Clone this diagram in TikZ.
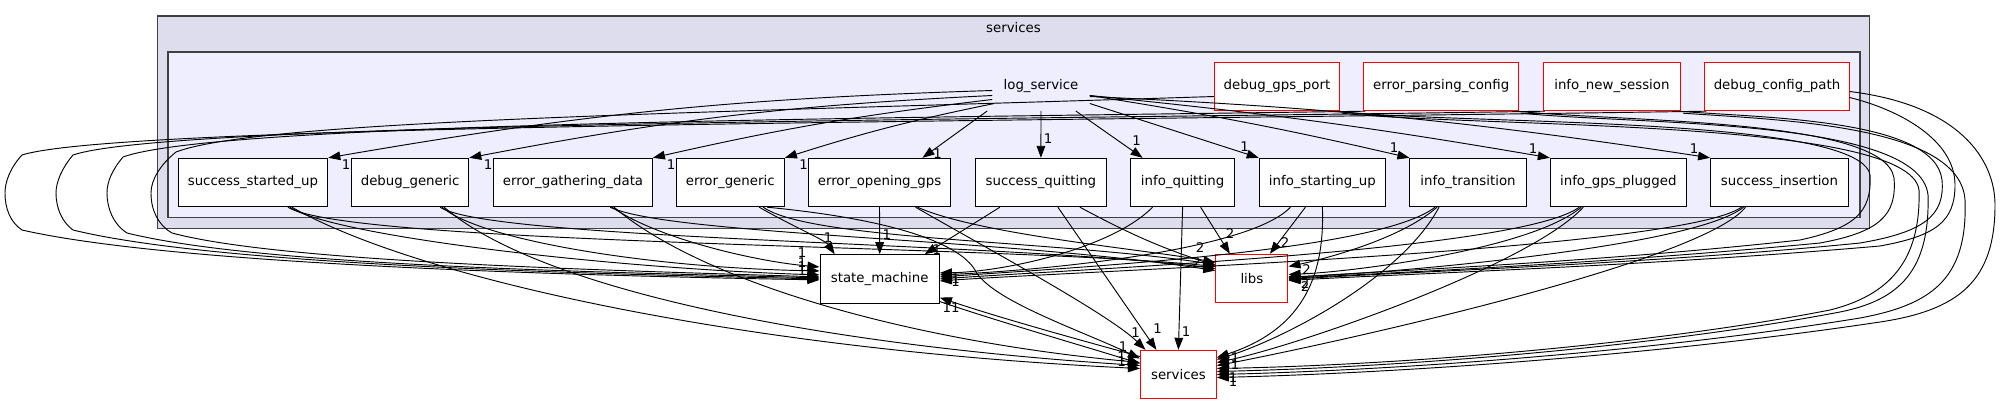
\documentclass[tikz,border=0pt]{standalone}
\usepackage{fontspec}
\setmainfont{DejaVu Sans}
\usetikzlibrary{arrows.meta,calc}
\definecolor{outerfill}{HTML}{DDDDEE}
\definecolor{innerfill}{HTML}{EEEEFF}
\definecolor{clborder}{HTML}{404040}
\begin{document}
\begin{tikzpicture}[x=0.75pt,y=-0.75pt,
  bw/.style={minimum width=#1*0.75pt},
  dbox/.style={draw=black,fill=white,line width=0.75pt,minimum height=36.3pt,inner sep=0pt,font=\fontsize{10pt}{12pt}\selectfont},
  rbox/.style={dbox,draw=red},
  dep/.style={draw=black,line width=0.7pt,-{Triangle[length=9pt,width=6.5pt]}},
  lbl/.style={font=\fontsize{10pt}{12pt}\selectfont,inner sep=0pt},
  cluster/.style={draw=clborder,line width=1.2pt,inner sep=0pt}
]
\useasboundingbox (0,0) rectangle (2001,404);
\fill[white] (0,0) rectangle (2001,404);
% clusters
\node[cluster,fill=outerfill,minimum width=1712*0.75pt,minimum height=212.6*0.75pt] (outer) at (1013.5,122) {};
\node[lbl] (outerlbl) at (1013.5,27.7) {services};
\node[cluster,fill=innerfill,minimum width=1692.3*0.75pt,minimum height=165.6*0.75pt] (inner) at (1013.85,134.5) {};
% nodes
\node[lbl,minimum width=97*0.75pt,minimum height=48.4*0.75pt] (log) at (1041,86.5) {log\_service};
\node[rbox,bw=125.1] (dgp) at (1277,86.5) {debug\_gps\_port};
\node[rbox,bw=154.5] (epc) at (1441.2,86.5) {error\_parsing\_config};
\node[rbox,bw=137.2] (ins) at (1611.9,86.5) {info\_new\_session};
\node[rbox,bw=144.3] (dcp) at (1777,86.5) {debug\_config\_path};

\node[dbox,bw=149.8] (ssu) at (252.9,182.5) {success\_started\_up};
\node[dbox,bw=117.4] (dg) at (410.1,182.5) {debug\_generic};
\node[dbox,bw=158.8] (egd) at (573,182.5) {error\_gathering\_data};
\node[dbox,bw=108.4] (eg) at (730.2,182.5) {error\_generic};
\node[dbox,bw=142.9] (eog) at (879.5,182.5) {error\_opening\_gps};
\node[dbox,bw=130.2] (sq) at (1040.9,182.5) {success\_quitting};
\node[dbox,bw=103.4] (iq) at (1182.6,182.5) {info\_quitting};
\node[dbox,bw=126.4] (isu) at (1322.4,182.5) {info\_starting\_up};
\node[dbox,bw=116.1] (it) at (1468,182.5) {info\_transition};
\node[dbox,bw=136] (igp) at (1618.3,182.5) {info\_gps\_plugged};
\node[dbox,bw=137.9] (si) at (1779.5,182.5) {success\_insertion};

\node[dbox,bw=119.4] (sm) at (879.7,278.9) {state\_machine};
\node[rbox,bw=72.1] (libs) at (1251.9,278.5) {libs};
\node[rbox,bw=76] (svc) at (1178.4,374.5) {services};

% log_service -> children
\draw[dep] ($(log.west)+(0,4)$) to[bend right=4] (ssu.north east);
\draw[dep] ($(log.west)+(0,9)$) to[bend right=4] (dg.north east);
\draw[dep] ($(log.west)+(0,13)$) to[bend right=3] (egd.north east);
\draw[dep] ($(log.west)+(2,17)$) to[bend right=3] (eg.north east);
\draw[dep] ($(log.south west)+(-5,0)$) -- ($(eog.north east)+(-29,0)$);
\draw[dep] (log.south) -- (sq.north);
\draw[dep] ($(log.south east)+(-14,0)$) -- ($(iq.north)+(-40,0)$);
\draw[dep] ($(log.east)+(0,17)$) -- (isu.north west);
\draw[dep] ($(log.east)+(0,9)$) to[bend left=2] (it.north west);
\draw[dep] ($(log.east)+(0,9)$) to[bend left=2] (igp.north west);
\draw[dep] ($(log.east)+(0,10)$) to[bend left=3] (si.north west);
\node[lbl] (l1) at (346,165) {1};
\node[lbl] (l2) at (488,165) {1};
\node[lbl] (l3) at (671,165) {1};
\node[lbl] (l4) at (803.6,165) {1};
\node[lbl] (l5) at (937.5,154) {1};
\node[lbl] (l6) at (1048,139) {1};
\node[lbl] (l7) at (1136.7,140.7) {1};
\node[lbl] (l8) at (1244.6,146.7) {1};
\node[lbl] (l9) at (1394,147.7) {1};
\node[lbl] (l10) at (1533,149) {1};
\node[lbl] (l11) at (1694,148.3) {1};

% success_started_up
\draw[dep] ($(ssu.south)+(37,0)$) .. controls (330,235) and (600,268) .. ($(sm.west)+(0,-4)$);
\draw[dep] ($(ssu.south)+(35,0)$) .. controls (350,245) and (1000,245) .. ($(libs.west)+(0,-12)$);
\draw[dep] ($(ssu.south)+(39,0)$) .. controls (420,280) and (750,350) .. ($(svc.west)+(0,-6)$);
% debug_generic
\draw[dep] ($(dg.south)+(32,0)$) .. controls (480,240) and (650,268) .. ($(sm.west)+(0,-8)$);
\draw[dep] ($(dg.south)+(30,0)$) .. controls (490,240) and (1000,242) .. ($(libs.west)+(0,-10)$);
\draw[dep] ($(dg.south)+(34,0)$) .. controls (540,290) and (820,345) .. ($(svc.west)+(0,-9)$);
% error_gathering_data
\draw[dep] ($(egd.south)+(39,0)$) .. controls (660,240) and (760,262) .. ($(sm.west)+(0,-12)$);
\draw[dep] ($(egd.south)+(37,0)$) .. controls (670,235) and (1000,238) .. ($(libs.west)+(0,-8)$);
\draw[dep] ($(egd.south)+(41,0)$) .. controls (700,280) and (900,340) .. ($(svc.west)+(0,-12)$);
% error_generic
\draw[dep] ($(eg.south)+(29,0)$) .. controls (790,225) and (825,240) .. ($(sm.north)+(-45,0)$);
\draw[dep] ($(eg.south)+(33,0)$) .. controls (810,240) and (1050,240) .. ($(libs.west)+(0,-14)$);
\draw[dep] ($(eg.south)+(37,0)$) .. controls (900,220) and (960,245) .. (975,270) .. controls (990,300) and (1080,330) .. ($(svc.west)+(0,-16)$);
% error_opening_gps
\draw[dep] (eog.south) -- (sm.north);
\draw[dep] ($(eog.south)+(38,0)$) .. controls (980,235) and (1150,250) .. ($(libs.west)+(0,-16)$);
\draw[dep] ($(eog.south)+(36,0)$) .. controls (990,250) and (1110,315) .. ($(svc.north)+(-33,0)$);
% success_quitting
\draw[dep] ($(sq.south)+(-41,0)$) -- ($(sm.north)+(45,0)$);
\draw[dep] ($(sq.south)+(17,0)$) -- ($(svc.north)+(-22,0)$);
\draw[dep] ($(sq.south)+(39,0)$) to[bend right=5] ($(libs.west)+(0,-13)$);
% info_quitting
\draw[dep] ($(iq.south)+(-30,0)$) .. controls (1110,250) and (1000,272) .. ($(sm.east)+(0,-6)$);
\draw[dep] (iq.south) -- (svc.north);
\draw[dep] ($(iq.south)+(18,0)$) -- ($(libs.north)+(-22,0)$);
% info_starting_up
\draw[dep] ($(isu.south)+(-32,0)$) .. controls (1250,250) and (1050,270) .. ($(sm.east)+(0,-4)$);
\draw[dep] ($(isu.south)+(-17,0)$) -- ($(libs.north)+(18,0)$);
\draw[dep] (isu.south) .. controls (1325,280) and (1300,330) .. ($(svc.east)+(0,-17)$);
% info_transition
\draw[dep] ($(it.south)+(-31,0)$) .. controls (1400,240) and (1320,260) .. ($(libs.east)+(0,-12)$);
\draw[dep] ($(it.south)+(-33,0)$) .. controls (1380,250) and (1100,266) .. ($(sm.east)+(0,-2)$);
\draw[dep] ($(it.south)+(-29,0)$) .. controls (1400,280) and (1280,340) .. ($(svc.east)+(0,-15)$);
% info_gps_plugged
\draw[dep] ($(igp.south)+(-37,0)$) .. controls (1530,250) and (1350,272) .. ($(libs.east)+(0,-4)$);
\draw[dep] ($(igp.south)+(-39,0)$) .. controls (1520,250) and (1100,268) .. (sm.east);
\draw[dep] ($(igp.south)+(-35,0)$) .. controls (1530,265) and (1300,345) .. ($(svc.east)+(0,-12)$);
% success_insertion
\draw[dep] ($(si.south)+(-36,0)$) .. controls (1690,250) and (1350,276) .. ($(libs.east)+(0,-2)$);
\draw[dep] ($(si.south)+(-38,0)$) .. controls (1680,250) and (1100,270) .. ($(sm.east)+(0,2)$);
\draw[dep] ($(si.south)+(-34,0)$) .. controls (1700,265) and (1300,350) .. ($(svc.east)+(0,-9)$);

% red nodes -> state_machine (left loops)
\draw[dep] ($(dgp.west)+(0,10)$) .. controls (700,113) and (260,120) .. (176,152) .. controls (160,165) and (151,180) .. (151,193) .. controls (151,210) and (158,225) .. (172,233) .. controls (280,262) and (600,270) .. ($(sm.west)+(0,-2)$);
\draw[dep] ($(epc.south west)+(2,0)$) .. controls (900,118) and (220,122) .. (123,157) .. controls (112,170) and (107,182) .. (107,193) .. controls (107,208) and (113,224) .. (127,233) .. controls (260,266) and (600,272) .. ($(sm.west)+(0,-1)$);
\draw[dep] ($(ins.south west)+(2,0)$) .. controls (1000,120) and (170,122) .. (73,155) .. controls (62,168) and (56,182) .. (56,193) .. controls (56,208) and (62,222) .. (73,230) .. controls (220,266) and (600,274) .. (sm.west);
\draw[dep] ($(dcp.south west)+(2,0)$) .. controls (1000,122) and (120,124) .. (22,155) .. controls (10,168) and (5,182) .. (5,193) .. controls (5,208) and (10,222) .. (22,230) .. controls (180,266) and (600,276) .. ($(sm.west)+(0,1)$);

% red nodes -> libs / services (right loops)
\draw[dep] ($(dgp.south east)+(-2,0)$) .. controls (1450,125) and (1860,115) .. (1870,175) .. controls (1872,212) and (1855,228) .. (1800,240) .. controls (1600,262) and (1400,270) .. ($(libs.east)+(0,-1)$);
\draw[dep] ($(dgp.south east)+(2,2)$) .. controls (1480,128) and (1910,118) .. (1919,190) .. controls (1921,260) and (1890,295) .. (1830,310) .. controls (1650,345) and (1400,365) .. ($(svc.east)+(0,-6)$);
\draw[dep] ($(epc.south east)+(-2,0)$) .. controls (1620,122) and (1885,118) .. (1894,178) .. controls (1897,215) and (1880,232) .. (1820,243) .. controls (1600,264) and (1400,272) .. ($(libs.east)+(0,0)$);
\draw[dep] ($(epc.south east)+(2,2)$) .. controls (1640,125) and (1920,118) .. (1928,195) .. controls (1930,270) and (1900,300) .. (1840,312) .. controls (1650,348) and (1400,367) .. ($(svc.east)+(0,-3)$);
\draw[dep] ($(ins.south east)+(-2,0)$) .. controls (1760,118) and (1935,118) .. (1942,180) .. controls (1945,215) and (1925,232) .. (1860,243) .. controls (1650,264) and (1400,272) .. ($(libs.east)+(0,1)$);
\draw[dep] ($(ins.south east)+(2,2)$) .. controls (1780,120) and (1960,125) .. (1965,200) .. controls (1968,280) and (1930,305) .. (1860,318) .. controls (1650,352) and (1400,370) .. (svc.east);
\draw[dep] ($(dcp.east)+(0,11)$) .. controls (1900,110) and (1955,140) .. (1955,185) .. controls (1955,222) and (1935,236) .. (1880,246) .. controls (1650,266) and (1400,274) .. ($(libs.east)+(0,2)$);
\draw[dep] ($(dcp.east)+(0,5)$) .. controls (1960,105) and (1995,160) .. (1995,205) .. controls (1995,280) and (1960,310) .. (1880,322) .. controls (1660,355) and (1400,373) .. ($(svc.east)+(0,3)$);

% state_machine <-> services
\draw[dep] ($(svc.west)+(0,-18)$) .. controls (1080,340) and (1000,318) .. ($(sm.south east)+(0,-6)$);
\draw[dep] ($(sm.south east)+(0,-2)$) .. controls (1000,322) and (1080,345) .. ($(svc.west)+(0,-11)$);

% labels near state_machine
\node[lbl] (s1) at (828,237.3) {1};
\node[lbl] (s2) at (886.8,235) {1};
\node[lbl] (s3) at (936.8,250) {1};
\node[lbl] (s4) at (802,253) {1};
\node[lbl] (s5) at (802,263) {1};
\node[lbl] (s6) at (802,267) {1};
\node[lbl] (s7) at (802,271) {1};
\node[lbl] (s9) at (955.7,278.3) {1};
\node[lbl] (s10) at (955.7,282) {1};
\node[lbl] (s11) at (951,308) {11};
% labels near libs
\node[lbl] (b1) at (1200,248) {2};
\node[lbl] (b2) at (1196.7,263) {2};
\node[lbl] (b4) at (1230,234) {2};
\node[lbl] (b5) at (1285,243) {2};
\node[lbl] (b6) at (1306.7,270) {2};
\node[lbl] (b7) at (1305,284) {2};
\node[lbl] (b8) at (1305,287) {2};
% labels near services
\node[lbl] (c1) at (1123,346.7) {1};
\node[lbl] (c2) at (1121.7,357) {1};
\node[lbl] (c3) at (1121.7,362) {1};
\node[lbl] (c5) at (1135.7,333) {1};
\node[lbl] (c6) at (1157.5,329) {1};
\node[lbl] (c7) at (1186,331.7) {1};
\node[lbl] (c8) at (1235,358) {1};
\node[lbl] (c9) at (1235,365) {1};
\node[lbl] (c10) at (1233,378) {1};
\node[lbl] (c11) at (1233,382) {1};
\end{tikzpicture}
\end{document}
